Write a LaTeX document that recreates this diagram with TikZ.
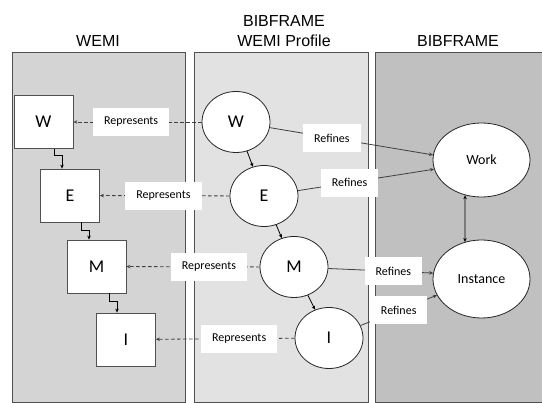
\documentclass[tikz,border=0pt]{standalone}
\usepackage{fontspec}
\setmainfont{Carlito}
\newfontfamily\headfont{Liberation Sans}
\usetikzlibrary{positioning,arrows.meta,shapes.geometric}

\definecolor{wemigray}{RGB}{212,212,212}
\definecolor{profgray}{RGB}{226,226,226}
\definecolor{bfgray}{RGB}{192,192,192}
\definecolor{edgegray}{RGB}{80,80,80}

\begin{document}
\begin{tikzpicture}[
    x=1pt, y=-1pt,
    >={Stealth[length=4pt,width=3.5pt]},
    line width=0.8pt,
    head/.style={font=\headfont\fontsize{16}{20}\selectfont, align=center},
    panel/.style={draw=edgegray},
    wbox/.style={draw=edgegray, fill=white, minimum width=59pt, minimum height=53pt, font=\fontsize{18}{20}\selectfont},
    wcirc/.style={ellipse, draw=black!85, fill=white, minimum width=68pt, minimum height=61pt, inner sep=0pt, font=\fontsize{18}{20}\selectfont},
    bfcirc/.style={ellipse, draw=black!85, fill=white, minimum width=97pt, inner sep=0pt, font=\fontsize{14}{16}\selectfont},
    lbl/.style={fill=white, inner xsep=11pt, minimum height=28pt, font=\fontsize{12}{14}\selectfont},
    rep/.style={->, dash pattern=on 3.5pt off 2.5pt, draw=black!75},
    link/.style={->, draw=black!75}
]

\useasboundingbox (0,0) rectangle (542,403);
\fill[white] (0,0) rectangle (542,403);

\draw[panel, fill=wemigray] (12.5,52) rectangle (185,402);
\draw[panel, fill=profgray] (194,52) rectangle (368,402);
\draw[panel, fill=bfgray] (375,52) rectangle (543,402);

\node[head] (twemi) at (98,41) {WEMI};
\node[head] (tprof) at (284,31) {BIBFRAME\\WEMI Profile};
\node[head] (tbf) at (458,41) {BIBFRAME};

\node[wbox] (bw) at (43.5,122) {W};
\node[wbox] (be) at (70,195.5) {E};
\node[wbox] (bm) at (96.5,266.5) {M};
\node[wbox] (bi) at (126,339.5) {I};

\node[wcirc] (ew) at (236,122) {W};
\node[wcirc] (ee) at (264,196) {E};
\node[wcirc] (em) at (294,267) {M};
\node[wcirc] (ei) at (329,338) {I};

\node[bfcirc, minimum height=74pt] (work) at (481.5,160) {Work};
\node[bfcirc, minimum height=78pt] (inst) at (481.5,279) {Instance};

\draw[->] ([xshift=10.5pt]bw.south) -- ++(0,7) -| ([xshift=-8pt]be.north);
\draw[->] ([xshift=11pt]be.south) -- ++(0,8) -| ([xshift=-7.5pt]bm.north);
\draw[->] ([xshift=12.5pt]bm.south) -- ++(0,8) -| ([xshift=-9pt]bi.north);

\draw[rep] (ew) -- node[lbl, pos=0.55] {Represents} (bw);
\draw[rep] (ee) -- node[lbl, pos=0.51] {Represents} (be);
\draw[rep] (em) -- node[lbl, pos=0.38] {Represents} (bm);
\draw[rep] (ei) -- node[lbl, pos=0.40] {Represents} (bi);

\draw[->] (ew) -- (ee);
\draw[->] (ee) -- (em);
\draw[->] (em) -- (ei);

\draw[link] (ew) -- node[lbl, pos=0.38] {Refines} (work.174);
\draw[link] (ee) -- node[lbl, pos=0.38] {Refines} (work.191);
\draw[link] (em) -- node[lbl, pos=0.62] {Refines} (inst.173);
\draw[link] (ei) -- node[lbl, pos=0.50] {Refines} (inst.200);

\draw[<->] (work.245) -- (inst.114);

\end{tikzpicture}
\end{document}
